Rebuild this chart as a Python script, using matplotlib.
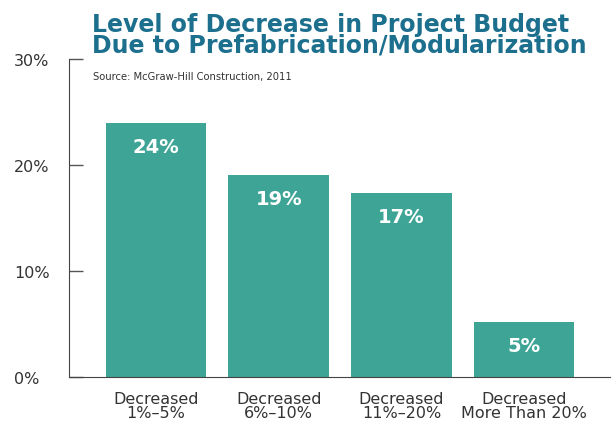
import matplotlib
matplotlib.use('Agg')
import matplotlib.pyplot as plt

categories = ['Decreased\n1%\u20135%', 'Decreased\n6%\u201310%',
              'Decreased\n11%\u201320%', 'Decreased\nMore Than 20%']
values = [24, 19.1, 17.4, 5.2]
value_labels = ['24%', '19%', '17%', '5%']
y_ticks = [0, 10, 20, 30]
y_tick_labels = ['0%', '10%', '20%', '30%']
title = 'Level of Decrease in Project Budget\nDue to Prefabrication/Modularization'

bar_colour = '#3ea596'
title_colour = '#1d6f8e'
text_colour = '#333333'

plt.rcParams['font.family'] = ['DejaVu Sans']

fig = plt.figure(figsize=(6.12, 4.26), dpi=100)
ax = fig.add_axes([69 / 612, 49 / 426, 541 / 612, 318 / 426])

x = list(range(len(categories)))
bars = ax.bar(x, values, width=0.82, color=bar_colour, zorder=2)

for b, lab in zip(bars, value_labels):
    ax.annotate(lab, (b.get_x() + b.get_width() / 2, b.get_height()),
                xytext=(0, -18), textcoords='offset points',
                ha='center', va='center', color='white',
                fontsize=14, fontweight='bold')

ax.set_xlim(-0.71, 3.70)
ax.set_ylim(0, 30)
ax.set_yticks(y_ticks)
ax.set_yticklabels([])
ax.set_xticks(x)
ax.set_xticklabels(categories, fontsize=11.5, color=text_colour, linespacing=0.95)
ax.tick_params(axis='x', length=0, pad=10.5)
ax.tick_params(axis='y', direction='in', length=10, width=1, color='#555555')

# y tick labels sit left-aligned at the figure edge, as in the reference
for t, lab in zip(y_ticks, y_tick_labels):
    ax.text(14 / 612, ax.transData.transform((0, t))[1] / 426 - 2 / 426, lab,
            transform=fig.transFigure, ha='left', va='center',
            fontsize=11.5, color=text_colour)

for side in ('top', 'right'):
    ax.spines[side].set_visible(False)
ax.spines['left'].set_color('#444444')
ax.spines['bottom'].set_color('#444444')

fig.text(92 / 612, 1 - 13 / 426, title,
         ha='left', va='top', fontsize=17, fontweight='bold',
         color=title_colour, linespacing=0.82)
fig.text(93 / 612, 1 - 77 / 426, 'Source: McGraw-Hill Construction, 2011',
         ha='left', va='center', fontsize=7.2, color=text_colour)

fig.savefig('out.png', dpi=100)
